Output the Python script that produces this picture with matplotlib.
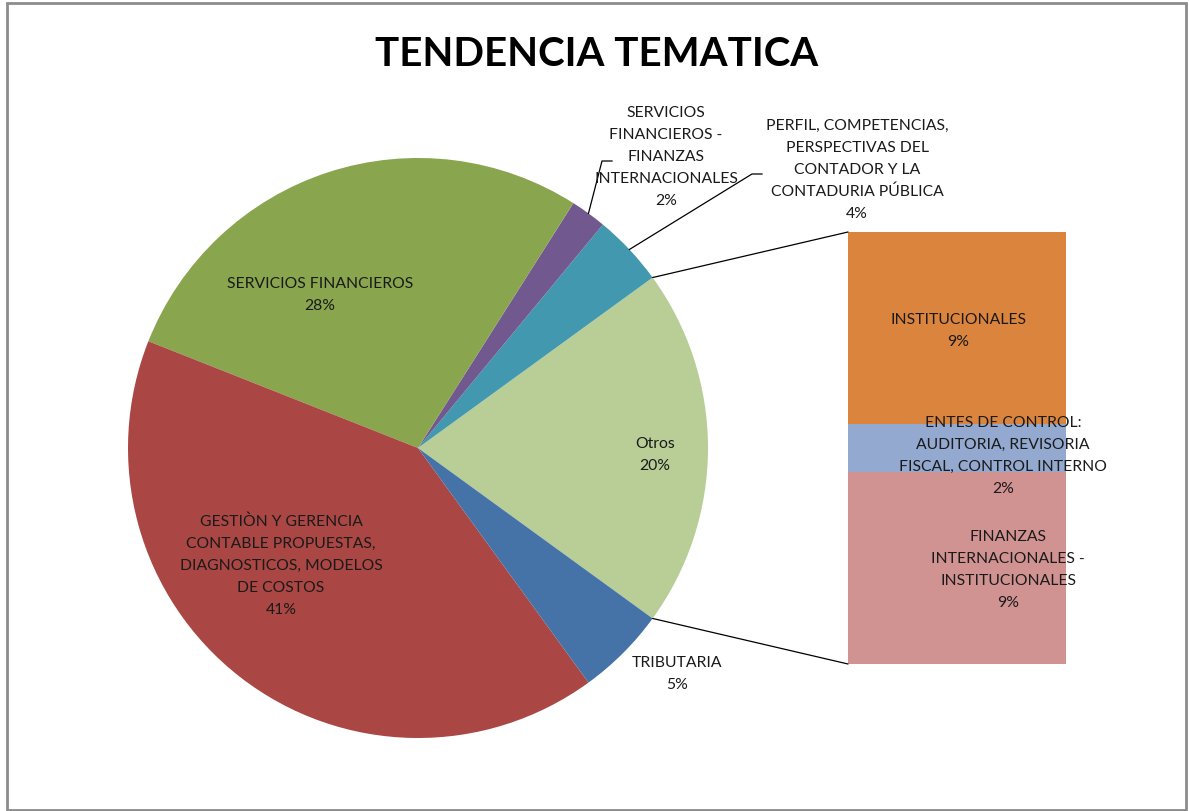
import numpy as np
import matplotlib
matplotlib.use("Agg")
import matplotlib.pyplot as plt
from matplotlib.patches import Rectangle, ConnectionPatch

# ---- data ----
pie_labels = ["Otros",
              "PERFIL, COMPETENCIAS,\nPERSPECTIVAS DEL\nCONTADOR Y LA\nCONTADURIA PÚBLICA",
              "SERVICIOS\nFINANCIEROS -\nFINANZAS\nINTERNACIONALES",
              "SERVICIOS FINANCIEROS",
              "GESTIÒN Y GERENCIA\nCONTABLE PROPUESTAS,\nDIAGNOSTICOS, MODELOS\nDE COSTOS",
              "TRIBUTARIA"]
pie_values = [20, 4, 2, 28, 41, 5]
pie_pct = ["20%", "4%", "2%", "28%", "41%", "5%"]
pie_colors = ["#B9CD96", "#4198AF", "#71588F", "#89A54E", "#AA4643", "#4572A7"]

bar_labels = ["FINANZAS\nINTERNACIONALES -\nINSTITUCIONALES",
              "ENTES DE CONTROL:\nAUDITORIA, REVISORIA\nFISCAL, CONTROL INTERNO",
              "INSTITUCIONALES"]
bar_values = [8.9, 2.2, 8.9]
bar_pct = ["9%", "2%", "9%"]
bar_colors = ["#D19392", "#93A9CF", "#DB843D"]

title = "TENDENCIA TEMATICA"

# ---- layout ----
W, H = 1189, 812
FONT = "Lato"
TXT = "#1a1a1a"
FS = 11.3
LS = 1.72

fig = plt.figure(figsize=(W / 100, H / 100), dpi=100)
fig.patch.set_facecolor("white")
ax = fig.add_axes([0, 0, 1, 1])

def Y(y):
    return H - y

cx, cy, R = 418, Y(449), 290
start = -36
wedges, _ = ax.pie(pie_values, colors=pie_colors, startangle=start, counterclock=True,
                   center=(cx, cy), radius=R, wedgeprops=dict(linewidth=0))
ax.set_xlim(0, W)
ax.set_ylim(0, H)
ax.set_aspect("equal")
ax.axis("off")

def wedge_edge(i, which):
    w = wedges[i]
    th = {"mid": (w.theta1 + w.theta2) / 2, "t1": w.theta1, "t2": w.theta2}[which]
    return cx + R * np.cos(np.radians(th)), cy + R * np.sin(np.radians(th))

# in-pie / near labels (pixel layout positions)
label_pos = {0: (655, 455), 3: (320, 295), 4: (281, 566), 5: (677, 674),
             2: (666, 157), 1: (857, 170)}
for i, (x, y) in label_pos.items():
    ax.text(x, Y(y), pie_labels[i] + "\n" + pie_pct[i], ha="center", va="center",
            fontsize=FS, family=FONT, color=TXT, linespacing=LS)

# leader lines
px, py = wedge_edge(2, "mid")
ax.plot([px, 602, 612], [py, Y(162), Y(162)], color="black", lw=0.9)
px, py = wedge_edge(1, "mid")
ax.plot([px, 752, 762], [py, Y(175), Y(175)], color="black", lw=0.9)

# bar of pie
bx0, by0, bw, bh = 848, Y(665), 218, 432
bax = fig.add_axes([bx0 / W, by0 / H, bw / W, bh / H])
bottoms = np.concatenate([[0], np.cumsum(bar_values)[:-1]])
bax.bar([0] * len(bar_values), bar_values, bottom=bottoms, width=1.0,
        color=bar_colors, linewidth=0)
bax.set_xlim(-0.5, 0.5)
bax.set_ylim(0, sum(bar_values))
bax.axis("off")

bar_label_pos = {0: (1008, 570), 1: (1003, 456), 2: (958, 331)}
for i, (x, y) in bar_label_pos.items():
    bax.text(x, Y(y), bar_labels[i] + "\n" + bar_pct[i], ha="center", va="center",
             fontsize=FS, family=FONT, color=TXT, linespacing=LS, zorder=5,
             transform=ax.transData, clip_on=False)

# connectors from pie to bar
for th_key, yb in (("t1", 0), ("t2", sum(bar_values))):
    x1, y1 = wedge_edge(0, th_key)
    con = ConnectionPatch(xyA=(x1, y1), coordsA=ax.transData,
                          xyB=(-0.5, yb), coordsB=bax.transData,
                          color="black", lw=0.9)
    fig.add_artist(con)

# title
ax.text(597, Y(55), title, ha="center", va="center", fontsize=29,
        fontweight="bold", family=FONT, color="black")

# chart border
fig.add_artist(Rectangle((7 / W, 1 / H), 1179 / W, 807 / H, transform=fig.transFigure,
                         fill=False, edgecolor="#8c8c8c", lw=2))

fig.savefig("out.png", dpi=100)
